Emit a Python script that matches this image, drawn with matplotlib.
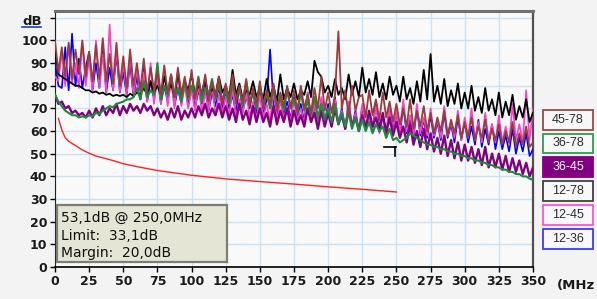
import matplotlib.pyplot as plt
import numpy as np
from matplotlib.patches import Rectangle
from matplotlib.lines import Line2D

# frequency axis of the sweep (MHz), one reading every 2.5 MHz
freq = np.arange(0, 350.1, 2.5)

# readings in dB, rows of 10 = 25 MHz each
s_45_78 = [100, 86, 97, 84, 99, 83, 96, 85, 100, 84,
           95, 82, 98, 83, 101, 82, 94, 81, 99, 80,
           93, 79, 96, 80, 90, 78, 92, 77, 88, 78,
           86, 76, 89, 77, 85, 75, 88, 76, 84, 75,
           87, 74, 83, 76, 85, 73, 82, 75, 84, 72,
           81, 74, 85, 72, 80, 73, 83, 71, 79, 72,
           82, 70, 78, 72, 81, 69, 77, 71, 80, 70,
           78, 69, 80, 70, 76, 68, 79, 70, 84, 69,
           77, 68, 76, 104, 70, 78, 67, 80, 69, 75,
           76, 66, 78, 67, 74, 65, 77, 66, 73, 64,
           72, 63, 70, 62, 74, 61, 69, 62, 71, 60,
           68, 59, 66, 60, 69, 58, 65, 59, 67, 57,
           64, 57, 66, 56, 62, 57, 65, 55, 61, 56,
           63, 54, 60, 55, 64, 53, 59, 54, 62, 53,
           55]
s_36_78 = [76, 73, 71, 69, 68, 67, 67, 66, 66.5, 66,
           67, 66.5, 68, 67.5, 69, 70, 71, 70.5, 72, 72.5,
           73, 74, 74, 75, 79, 74, 82, 75, 78, 76,
           90, 74, 80, 76, 85, 75, 79, 73, 82, 74,
           80, 75, 84, 73, 79, 76, 83, 74, 81, 73,
           78, 72, 81, 74, 79, 71, 82, 73, 77, 70,
           80, 72, 76, 70, 79, 71, 75, 69, 78, 70,
           74, 68, 77, 69, 73, 67, 75, 66, 72, 65,
           70, 64, 72, 63, 68, 62, 69, 61, 66, 60,
           65, 60, 64, 59, 63, 60, 62, 57, 61, 56,
           57, 55, 56, 57, 59, 58, 57, 56, 55, 54,
           54, 53, 53, 52, 52, 51, 51, 50, 50, 49,
           49, 48, 48, 47, 47, 46, 46, 45, 45, 44,
           44, 43, 43, 42, 42, 41, 41, 40, 40, 39,
           38.5]
s_36_45 = [76, 72, 73, 70, 71, 68, 69, 67, 68, 66,
           69, 66, 70, 67, 71, 67, 70, 68, 72, 67,
           71, 68, 72, 69, 71, 68, 72, 69, 71, 67,
           70, 66, 69, 65, 70, 66, 71, 65, 69, 66,
           70, 66, 71, 67, 72, 66, 70, 67, 72, 66,
           71, 65, 70, 64, 72, 65, 69, 63, 71, 64,
           70, 64, 68, 62, 71, 63, 69, 64, 70, 62,
           69, 63, 67, 62, 70, 64, 68, 61, 69, 62,
           68, 62, 70, 63, 67, 61, 69, 62, 66, 60,
           67, 61, 69, 62, 66, 60, 68, 59, 66, 58,
           64, 57, 62, 55, 63, 54, 60, 53, 61, 52,
           59, 51, 57, 50, 58, 49, 56, 48, 55, 47,
           54, 47, 53, 46, 52, 45, 53, 44, 50, 44,
           50, 43, 49, 42, 48, 42, 47, 41, 46, 40,
           44]
s_12_78 = [96, 85, 84, 83, 82, 81, 80, 80, 79, 78,
           78, 77, 77.5, 76.5, 77, 76, 76.5, 75.5, 76, 75.5,
           76, 75, 76.5, 75.5, 77, 76, 79, 76, 82, 77,
           80, 76, 84, 77, 81, 75, 86, 76, 82, 78,
           85, 76, 80, 77, 83, 75, 79, 76, 84, 77,
           80, 75, 87, 76, 81, 74, 78, 76, 82, 75,
           79, 74, 83, 75, 80, 73, 85, 74, 79, 75,
           81, 74, 78, 76, 82, 75, 91, 86, 84, 77,
           80, 75, 83, 76, 79, 74, 85, 76, 82, 75,
           88, 77, 83, 76, 86, 75, 81, 74, 84, 76,
           80, 73, 84, 74, 79, 72, 82, 73, 87, 74,
           94, 73, 80, 72, 83, 71, 78, 72, 81, 70,
           77, 70, 80, 69, 75, 68, 79, 69, 74, 67,
           77, 66, 73, 67, 76, 65, 71, 66, 74, 64,
           68]
s_12_45 = [84, 82, 95, 80, 98, 81, 90, 79, 99, 80,
           92, 78, 100, 79, 94, 77, 107, 78, 96, 77,
           90, 76, 93, 75, 88, 74, 86, 73, 90, 72,
           84, 72, 87, 71, 82, 70, 85, 71, 80, 70,
           78, 69, 81, 68, 77, 69, 80, 67, 76, 68,
           75, 67, 79, 66, 74, 68, 77, 66, 73, 65,
           76, 66, 72, 64, 78, 65, 73, 66, 71, 64,
           74, 65, 70, 63, 77, 64, 72, 62, 75, 63,
           70, 62, 74, 63, 69, 61, 73, 62, 68, 60,
           72, 61, 67, 60, 71, 59, 66, 60, 70, 58,
           69, 59, 74, 60, 67, 58, 72, 59, 66, 58,
           70, 58, 65, 57, 71, 58, 64, 57, 69, 56,
           66, 57, 70, 56, 64, 55, 68, 56, 63, 55,
           67, 55, 62, 54, 72, 56, 63, 55, 78, 56,
           70]
s_12_36 = [90, 80, 79, 97, 78, 103, 80, 92, 79, 88,
           95, 78, 90, 79, 99, 77, 88, 78, 94, 77,
           86, 76, 90, 75, 84, 74, 88, 73, 82, 74,
           85, 72, 80, 73, 84, 71, 79, 72, 83, 71,
           80, 70, 78, 72, 82, 69, 77, 71, 80, 69,
           78, 70, 76, 68, 80, 69, 75, 70, 78, 68,
           77, 67, 74, 96, 72, 66, 76, 67, 73, 65,
           75, 66, 72, 64, 77, 65, 71, 63, 74, 64,
           72, 62, 75, 63, 70, 61, 73, 62, 69, 60,
           71, 61, 68, 60, 73, 62, 67, 59, 70, 60,
           68, 58, 71, 59, 66, 57, 70, 58, 65, 57,
           67, 57, 64, 56, 68, 57, 63, 55, 66, 56,
           64, 55, 62, 54, 65, 53, 61, 54, 63, 52,
           60, 52, 58, 51, 61, 50, 57, 51, 59, 49,
           52]

limit_freq = [2.5, 5, 7.5, 10, 15, 20, 25, 30, 40, 50, 60, 75, 100, 125, 150, 175, 200, 225, 250]
limit_db = [65.6, 60.5, 57, 55.5, 53.6, 51.7, 50.2, 49, 47.4, 45.6, 44.3, 42.6, 40.5, 38.9, 37.7, 36.6, 35.4, 34.3, 33.1]

cursor_freq = 250.0
cursor_db = 53.1
limit_at_cursor = 33.1

legend_labels = ['45-78', '36-78', '36-45', '12-78', '12-45', '12-36']
legend_colors = ['#9a4a48', '#2e9a50', '#800080', '#404040', '#ff55cc', '#3a3aff']
line_colors = {'45-78': '#983c3c', '36-78': '#1f8a3a', '36-45': '#800080',
               '12-78': '#000000', '12-45': '#ff3fc4', '12-36': '#0000ff'}
line_widths = {'45-78': 1.3, '36-78': 1.5, '36-45': 1.7,
               '12-78': 1.3, '12-45': 1.2, '12-36': 1.2}
series = {'45-78': s_45_78, '36-78': s_36_78, '36-45': s_36_45,
          '12-78': s_12_78, '12-45': s_12_45, '12-36': s_12_36}

W, H = 597, 299
fig = plt.figure(figsize=(W / 100, H / 100), dpi=100, facecolor='#f3f3f3')
ax = fig.add_axes([55 / W, 1 - 267 / H, 478 / W, 256 / H], facecolor='#f9f9f9')

# draw order: blue first, brown last
for name in ['12-36', '12-45', '12-78', '36-45', '36-78', '45-78']:
    ax.plot(freq, series[name], color=line_colors[name], lw=line_widths[name], zorder=3)

ax.plot(limit_freq, limit_db, color='#ff2020', lw=1.0, zorder=4)

# cursor cross at the marked reading
ax.plot([cursor_freq - 9, cursor_freq], [cursor_db, cursor_db], color='black', lw=1.2, zorder=6)
ax.plot([cursor_freq - 1, cursor_freq - 1], [cursor_db, cursor_db - 4], color='black', lw=1.2, zorder=6)

ax.set_xlim(0, 350)
ax.set_ylim(0, 113)
ax.set_xticks(np.arange(0, 351, 25))
ax.set_yticks(np.arange(0, 111, 10))
ax.set_yticklabels([str(v) if v <= 100 else '' for v in range(0, 111, 10)])
ax.grid(True, color='#c9e1f5', lw=1.0, zorder=0)
ax.set_axisbelow(True)
ax.tick_params(axis='both', direction='out', length=3.5, width=1, colors='black',
               labelsize=9, pad=2)
for lab in ax.get_xticklabels() + ax.get_yticklabels():
    lab.set_fontweight('bold')
    lab.set_color('#1a1a1a')

ax.spines['top'].set_color('#707070')
ax.spines['top'].set_linewidth(2.2)
ax.spines['right'].set_color('#505050')
ax.spines['right'].set_linewidth(1.6)
ax.spines['left'].set_color('#222222')
ax.spines['bottom'].set_color('#111111')
ax.spines['bottom'].set_linewidth(1.3)

# axis captions
fig.text(22 / W, 1 - 25 / H, 'dB', fontsize=9.5, fontweight='bold', color='#1a1a1a')
fig.add_artist(Line2D([22 / W, 41 / W], [1 - 27 / H, 1 - 27 / H], color='#2040c0', lw=1.2))
fig.text(557 / W, 1 - 289 / H, '(MHz', fontsize=9.5, fontweight='bold', color='#1a1a1a')

# readout box
fig.add_artist(Rectangle((57 / W, 1 - 262 / H), 170 / W, 57 / H, transform=fig.transFigure,
                         facecolor='#e5e5d6', edgecolor='#7d7d70', lw=1.6, zorder=10))
readout = [f'{cursor_db:.1f}dB @ {cursor_freq:.1f}MHz'.replace('.', ','),
           f'Limit:  {limit_at_cursor:.1f}dB'.replace('.', ','),
           f'Margin:  {cursor_db - limit_at_cursor:.1f}dB'.replace('.', ',')]
for i, t in enumerate(readout):
    fig.text(61 / W, 1 - (218 + 17.5 * i) / H, t, fontsize=10, color='#111111',
             va='center', zorder=11)

# legend buttons
tops = [110, 133.5, 157, 181, 205, 229]
for lab, col, top in zip(legend_labels, legend_colors, tops):
    filled = lab == '36-45'
    fig.add_artist(Rectangle((543 / W, 1 - (top + 19.5) / H), 50 / W, 19.5 / H,
                             transform=fig.transFigure, lw=1.3, edgecolor=col,
                             facecolor=col if filled else '#f8f8f8', zorder=10))
    fig.text(568 / W, 1 - (top + 10) / H, lab, ha='center', va='center',
             fontsize=9, family='Liberation Sans',
             color='white' if filled else '#2a2a2a', zorder=11)

fig.savefig('out.png', dpi=100, facecolor=fig.get_facecolor())
